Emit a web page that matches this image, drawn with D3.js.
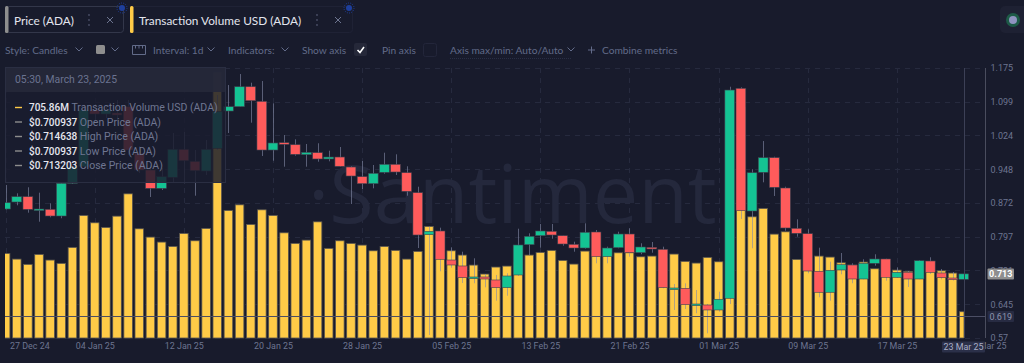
<!DOCTYPE html>
<html>
<head>
<meta charset="utf-8">
<script src="https://cdn.jsdelivr.net/npm/d3@7"></script>
<style>
  html, body { margin: 0; padding: 0; background: #181b2c; overflow: hidden; }
  svg { display: block; }
  text { font-family: "Lato", "Open Sans", sans-serif; }
  .axis text { font-family: "Roboto", sans-serif; fill: #6d7590; }
  .axis.price text { font-size: 9px; }
  .axis.time text { font-size: 8.9px; }
  .axis path, .axis line { display: none; }
  .tip text { font-family: "Roboto", sans-serif; font-size: 11px; }
</style>
</head>
<body>
<div id="chart"></div>
<script>
// transaction volume in millions of USD, one per day from 27 Dec 24
var volumes = [2273, 2120, 1978, 2246, 2094, 2005, 2434, 3293, 3095, 2971, 3274, 3873, 2934, 2711, 2577, 2461,
    2810, 2612, 2944, 7148, 3427, 3578, 3052, 3444, 3293, 2826, 2542, 2630, 3121, 2408, 2612, 2542,
    2496, 2343, 2461, 2354, 2120, 2327, 2998, 2765, 2343, 2228, 1959, 1718, 1906, 1932, 2040, 2228,
    2300, 2354, 2085, 1986, 2335, 2362, 2308, 2289, 2289, 2182, 2201, 2147, 2255, 2059, 2013, 2166,
    2048, 5500, 6200, 3256, 3481, 2791, 2853, 2112, 2228, 2201, 2174, 2021, 1959, 2040, 1860, 1879,
    1825, 1790, 1825, 1879, 1806, 1745, 706];

var opens = [.8587, .8744, .8863, .8571, .858, .843, .9164, .9536, 1.0808, 1.0718, 1.074, 1.0882, .9837, .9462, .9051, .9298,
    .9926, .9657, .9439, .9949, 1.0785, 1.0882, 1.133, 1.1003, .991, 1.0074, 1.0029, .9805, .985, .9709, .9753, .9529,
    .9312, .9155, .941, .959, .9401, .8953, .8011, .8094, .7443, .7309, .7039, .7062, .6995, .6822, .7107, .7786,
    .7988, .8087, .7988, .7795, .7712, .8071, .7517, .7719, .8026, .7607, .7728, .7683, .68, .6808, .6441, .6434,
    .6322, .6584, 1.1294, .8542, .941, .9738, .9058, .8154, .8033, .719, .6719, .7219, .7331, .7017, .7369, .7466,
    .7055, .7167, .7017, .7421, .7152, .7039, .7009];

var closes = [.8728, .8863, .858, .8587, .843, .9164, .9536, 1.0808, 1.0718, 1.0808, 1.0696, .991, .9462, .9051, .9312, .9926,
    .967, .9446, .9926, 1.077, 1.0882, 1.133, 1.1016, .991, 1.0068, 1.0038, .9814, .9859, .9709, .9753, .9545, .9327,
    .9155, .9388, .959, .9417, .8984, .8004, .8087, .7459, .7331, .7046, .7062, .7017, .6822, .7084, .778, .7975,
    .8094, .8004, .7802, .7712, .8065, .7517, .7712, .8026, .7607, .7735, .769, .6822, .6815, .6441, .6456, .6322,
    .6562, 1.1256, .8549, .9401, .9738, .9074, .8161, .8042, .7196, .6719, .7212, .7338, .7017, .7369, .7466, .7055,
    .7167, .7017, .7428, .7167, .7046, .7002, .7132];

var highs = [.9125, .8939, .9074, .8953, .8715, .917, .9686, 1.092, 1.0942, 1.0897, 1.1032, 1.1032, 1.0, .9574, .9507, 1.0292,
    1.0314, .991, 1.0135, 1.1144, 1.1368, 1.1615, 1.142, 1.1458, 1.0958, 1.0247, 1.015, 1.0045, 1.0061, .9895, .9978, .9545,
    .9664, .9574, .985, .9814, .9545, .9087, .819, .8168, .7728, .7629, .7481, .7129, .7107, .7145, .8145, .8042,
    .8251, .8251, .7988, .7854, .8266, .8116, .7742, .8078, .8154, .7818, .7847, .7742, .6905, .692, .677, .6456,
    .6732, 1.133, 1.1317, .9478, 1.0112, .976, .9087, .8356, .8132, .7719, .7405, .76, .7369, .7459, .7571, .7472,
    .7279, .7197, .7443, .7504, .7241, .7174, .7146];

var lows = [.8576, .867, .8504, .8302, .8401, .8379, .9148, .9507, 1.0583, 1.0628, 1.0471, .9798, .9395, .8856, .9013, .917,
    .9164, .8885, .935, .991, 1.0292, 1.0882, 1.0523, .9776, .967, .9536, .9783, .9536, .9648, .9657, .9536, .8699,
    .9036, .9051, .9379, .935, .8885, .7712, .5761, .719, .727, .6927, .6921, .6831, .653, .6642, .7084, .7555,
    .7719, .7921, .7764, .7629, .7697, .7369, .7369, .7706, .7517, .7571, .7607, .6808, .6322, .6344, .6248, .5799,
    .6284, .6456, .8363, .7706, .9186, .8879, .81, .7966, .7145, .6607, .653, .7122, .6921, .701, .7316, .6979,
    .7039, .6838, .701, .7129, .701, .6983, .7009];

var priceTicks = [1.175, 1.099, 1.024, 0.948, 0.872, 0.797, 0.721, 0.645, 0.57];

var tooltipRows = [
    ["705.86M", "Transaction Volume USD (ADA)", "#ffcb47"],
    ["$0.700937", "Open Price (ADA)", "#8d8d8d"],
    ["$0.714638", "High Price (ADA)", "#8d8d8d"],
    ["$0.700937", "Low Price (ADA)", "#8d8d8d"],
    ["$0.713203", "Close Price (ADA)", "#8d8d8d"]
];

var w = 1024, h = 363,
    plotLeft = 5, plotRight = 985, plotBottom = 338;

var green = "#14c393", red = "#ff5b5b", yellow = "#ffcb47",
    muted = "#626b89", grid = "#262a3e";

var firstDay = new Date(Date.UTC(2024, 11, 27)),
    lastDay = new Date(Date.UTC(2025, 2, 23)),
    axisEnd = new Date(Date.UTC(2025, 2, 25));

var days = d3.utcDay.range(firstDay, d3.utcDay.offset(lastDay, 1));

var x = d3.scaleUtc().domain([firstDay, axisEnd]).range([5.6, 986]),
    yPrice = d3.scaleLinear().domain([0.57, 1.175]).range([337.7, 68]),
    yVol = d3.scaleLinear().domain([0, 7200]).range([plotBottom, 70]);

var svg = d3.select("#chart").append("svg")
    .attr("width", w)
    .attr("height", h)
    .attr("viewBox", "0 0 " + w + " " + h);

svg.append("rect").attr("width", w).attr("height", h).attr("fill", "#181b2c");

var defs = svg.append("defs");
defs.append("clipPath").attr("id", "barClip").append("rect")
    .attr("x", plotLeft).attr("y", 60).attr("width", x(lastDay) - plotLeft).attr("height", 280);
defs.append("clipPath").attr("id", "candleClip").append("rect")
    .attr("x", plotLeft).attr("y", 60).attr("width", plotRight - plotLeft).attr("height", 280);

var tickDays = d3.utcDay.range(firstDay, d3.utcDay.offset(axisEnd, 1), 8);

// grid
var gridG = svg.append("g").attr("stroke", grid).attr("stroke-dasharray", "5,5");
gridG.selectAll("line.h")
    .data(priceTicks)
    .enter().append("line")
    .attr("x1", plotLeft).attr("x2", plotRight)
    .attr("y1", function (d) { return Math.round(yPrice(d)) + 0.5; })
    .attr("y2", function (d) { return Math.round(yPrice(d)) + 0.5; });
gridG.selectAll("line.v")
    .data(tickDays.slice(0, -1))
    .enter().append("line")
    .attr("x1", function (d) { return Math.round(x(d)) + 0.5; })
    .attr("x2", function (d) { return Math.round(x(d)) + 0.5; })
    .attr("y1", 68).attr("y2", plotBottom);

// watermark
svg.append("text")
    .attr("x", 308)
    .attr("y", 223)
    .attr("fill", "#24283c")
    .attr("font-size", 81)
    .style("font-family", "'Open Sans', sans-serif")
    .style("font-weight", 400)
    .text("·Santiment");

// volume bars
svg.append("g")
    .attr("clip-path", "url(#barClip)")
    .selectAll("rect")
    .data(volumes)
    .enter().append("rect")
    .attr("x", function (d, i) { return x(days[i]) - 4.3; })
    .attr("width", 8.6)
    .attr("y", function (d) { return yVol(d); })
    .attr("height", function (d) { return yVol(0) - yVol(d); })
    .attr("fill", yellow)
    .attr("stroke", "#57544f")
    .attr("stroke-width", 0.8);

// candles
var candle = svg.append("g")
    .attr("clip-path", "url(#candleClip)")
    .selectAll("g")
    .data(days)
    .enter().append("g");

candle.append("line")
    .attr("x1", function (d) { return Math.round(x(d)) + 0.5; })
    .attr("x2", function (d) { return Math.round(x(d)) + 0.5; })
    .attr("y1", function (d, i) { return yPrice(highs[i]); })
    .attr("y2", function (d, i) { return yPrice(lows[i]); })
    .attr("stroke", "rgb(131,137,167)")
    .attr("stroke-opacity", 0.62);

candle.append("rect")
    .attr("x", function (d) { return x(d) - 4.9; })
    .attr("width", 9.8)
    .attr("y", function (d, i) { return yPrice(Math.max(opens[i], closes[i])); })
    .attr("height", function (d, i) {
        return Math.max(1.6, yPrice(Math.min(opens[i], closes[i])) - yPrice(Math.max(opens[i], closes[i])));
    })
    .attr("fill", function (d, i) { return closes[i] >= opens[i] ? green : red; })
    .attr("stroke", "#3f4250")
    .attr("stroke-width", 0.6);

// crosshair
var crossX = Math.round(x(lastDay)) + 0.5;
svg.append("line")
    .attr("x1", crossX).attr("x2", crossX)
    .attr("y1", 68).attr("y2", plotBottom)
    .attr("stroke", "#3c4056");
svg.append("line")
    .attr("x1", plotLeft).attr("x2", plotRight)
    .attr("y1", 316.5).attr("y2", 316.5)
    .attr("stroke", "#4b4e64");

// axes
svg.append("line")
    .attr("x1", plotRight + 0.5).attr("x2", plotRight + 0.5)
    .attr("y1", 68).attr("y2", plotBottom)
    .attr("stroke", "#4a4d5e");

var axisY = svg.append("g")
    .attr("class", "axis price")
    .attr("transform", "translate(" + plotRight + ",0)")
    .call(d3.axisRight(yPrice).tickValues(priceTicks).tickSize(0).tickPadding(5.5)
        .tickFormat(function (d) { return String(d); }));

var axisX = svg.append("g")
    .attr("class", "axis time")
    .attr("transform", "translate(0,342.5)")
    .call(d3.axisBottom(x).tickValues(tickDays).tickSize(0).tickPadding(0)
        .tickFormat(d3.utcFormat("%d %b %y")));

axisX.select(".tick text").attr("text-anchor", "start").attr("x", 4);

function tag(tx, ty, tw, th, bg, color, label, size, bold) {
    svg.append("rect").attr("x", tx).attr("y", ty).attr("width", tw).attr("height", th)
        .attr("rx", 1).attr("fill", bg);
    svg.append("text")
        .attr("x", tx + tw / 2).attr("y", ty + th / 2).attr("dy", "0.35em")
        .attr("text-anchor", "middle")
        .attr("fill", color)
        .attr("font-size", size)
        .attr("font-weight", bold ? 700 : 400)
        .style("font-family", "Roboto, sans-serif")
        .text(label);
}

tag(987.5, 268.5, 26.5, 11, "#8e8e8e", "#ffffff", "0.713", 9, true);
tag(987.5, 311, 26.5, 11, "#272b42", "#8c93ad", "0.619", 9, false);
tag(942, 341.5, 43, 11, "#2b3049", "#a9aec6", "23 Mar 25", 8.9, false);

// tooltip over the chart
var tip = svg.append("g").attr("class", "tip");
tip.append("rect").attr("x", 5.5).attr("y", 67.5).attr("width", 220).attr("height", 115)
    .attr("fill", "#1a1d2e").attr("fill-opacity", 0.84).attr("stroke", "#2a2e42");
tip.append("rect").attr("x", 6).attr("y", 68).attr("width", 219).attr("height", 24)
    .attr("fill", "#252839").attr("fill-opacity", 0.92);
tip.append("text").attr("x", 15).attr("y", 83).attr("fill", "#6b7390")
    .style("font-size", "10.4px").text("05:30, March 23, 2025");

var row = tip.selectAll("g.row")
    .data(tooltipRows)
    .enter().append("g")
    .attr("class", "row")
    .attr("transform", function (d, i) { return "translate(0," + (107.5 + i * 14.5) + ")"; });
row.append("line").attr("x1", 15).attr("x2", 22)
    .attr("stroke", function (d) { return d[2]; }).attr("stroke-width", 1.4);
var rowText = row.append("text").attr("x", 29).attr("dy", "0.35em");
rowText.append("tspan").attr("fill", "#e6e7ee").attr("font-weight", 500)
    .style("font-size", "10px").text(function (d) { return d[0]; });
rowText.append("tspan").attr("dx", 2.5).attr("fill", "#6f7691")
    .style("font-size", "10.5px").text(function (d) { return d[1]; });

// header tabs
function chevron(cx, cy) {
    svg.append("path")
        .attr("d", "M" + (cx - 3.5) + "," + (cy - 2) + "L" + cx + "," + (cy + 1.5) + "L" + (cx + 3.5) + "," + (cy - 2))
        .attr("fill", "none").attr("stroke", "#626b89").attr("stroke-width", 1);
}

function tab(tx, tw, stripe, label, border) {
    svg.append("rect").attr("x", tx + 0.5).attr("y", 6.5).attr("width", tw).attr("height", 26)
        .attr("rx", 3).attr("fill", "none").attr("stroke", border);
    svg.append("rect").attr("x", tx).attr("y", 6).attr("width", 3.5).attr("height", 27)
        .attr("rx", 1.5).attr("fill", stripe);
    svg.append("text").attr("x", tx + 9).attr("y", 24.5)
        .attr("fill", "#e3e5ee").attr("font-size", 11.8).text(label);
}

tab(5, 118, "#8e8e8e", "Price (ADA)", "#33374a");
tab(130, 222, yellow, "Transaction Volume USD (ADA)", "#1f2235");

[[89, 20], [317, 20]].forEach(function (p) {
    svg.selectAll(null).data([-5, 0, 5]).enter().append("circle")
        .attr("cx", p[0]).attr("cy", function (d) { return p[1] + d; }).attr("r", 0.9).attr("fill", "#4b5068");
});
[[110, 20], [338, 20]].forEach(function (p) {
    svg.append("path")
        .attr("d", "M" + (p[0] - 3) + "," + (p[1] - 3) + "L" + (p[0] + 3) + "," + (p[1] + 3) +
            "M" + (p[0] + 3) + "," + (p[1] - 3) + "L" + (p[0] - 3) + "," + (p[1] + 3))
        .attr("stroke", "#6d7590").attr("stroke-width", 1);
});
[122, 349].forEach(function (cx) {
    svg.append("circle").attr("cx", cx).attr("cy", 8).attr("r", 3).attr("fill", "#1e3f9c");
    svg.append("circle").attr("cx", cx).attr("cy", 8).attr("r", 5).attr("fill", "none")
        .attr("stroke", "#1e3f9c").attr("stroke-dasharray", "1,1.2");
});

// toolbar
function label(lx, text, underline) {
    var t = svg.append("text").attr("x", lx).attr("y", 53.5)
        .attr("fill", muted).attr("font-size", 10.2).text(text);
    if (underline) {
        svg.append("line")
            .attr("x1", lx).attr("x2", lx + underline)
            .attr("y1", 58.5).attr("y2", 58.5)
            .attr("stroke", "#2a2e44").attr("stroke-dasharray", "1,1");
    }
    return t;
}

label(5, "Style: Candles");
chevron(79, 49.5);
svg.append("rect").attr("x", 96).attr("y", 45).attr("width", 9).attr("height", 9).attr("rx", 1.5).attr("fill", "#8e8e8e");
chevron(115, 49.5);
svg.append("path")
    .attr("d", "M132.5,45.5H145.5V54.5H132.5ZM135.5,45.5V48.5M139,45.5V48.5M142.5,45.5V48.5")
    .attr("fill", "none").attr("stroke", "#626b89");
label(153, "Interval: 1d");
chevron(211, 49.5);
label(228, "Indicators:");
chevron(285, 49.5);
label(302, "Show axis");
svg.append("rect").attr("x", 354).attr("y", 43).attr("width", 13).attr("height", 13).attr("rx", 2).attr("fill", "#252839");
svg.append("path").attr("d", "M357.5,50L360,52.5L364,47").attr("fill", "none").attr("stroke", "#ffffff").attr("stroke-width", 1.6);
label(382, "Pin axis");
svg.append("rect").attr("x", 423.5).attr("y", 43.5).attr("width", 13).attr("height", 13).attr("rx", 2)
    .attr("fill", "none").attr("stroke", "#23263a");
label(450, "Axis max/min: Auto/Auto", 122);
chevron(571, 49.5);
svg.append("path").attr("d", "M588,50H595M591.5,46.5V53.5").attr("stroke", "#626b89");
label(602, "Combine metrics");

// status button, top right
svg.append("rect").attr("x", 1000).attr("y", 6).attr("width", 30).attr("height", 27).attr("rx", 5).attr("fill", "#1e2133");
svg.append("circle").attr("cx", 1013).attr("cy", 20).attr("r", 7).attr("fill", "#1d5a47");
svg.append("circle").attr("cx", 1013).attr("cy", 20).attr("r", 4).attr("fill", "#8f93c0");
</script>
</body>
</html>
